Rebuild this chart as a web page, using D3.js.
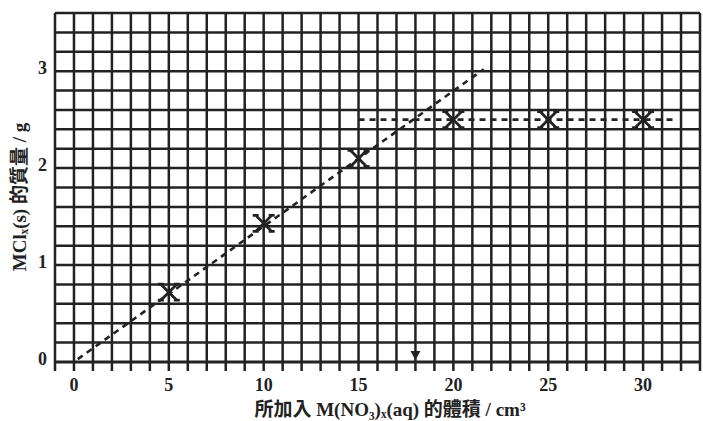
<!DOCTYPE html>
<html>
<head>
<meta charset="utf-8">
<script src="https://cdn.jsdelivr.net/npm/d3@7"></script>
<style>
  html, body { margin: 0; padding: 0; background: #fff; }
  svg { display: block; }
</style>
</head>
<body>
<svg id="chart" width="703" height="421"></svg>
<script>
// ---- data ----
const volumes = [5, 10, 15, 20, 25, 30];          // cm3 of M(NO3)x(aq) added
const masses  = [0.72, 1.43, 2.1, 2.5, 2.5, 2.5]; // g of MClx(s)
const xTicks  = [0, 5, 10, 15, 20, 25, 30];
const yTicks  = [0, 1, 2, 3];
const riseLine = [[0.2, 0.03], [21.6, 3.02]];     // dashed best-fit line (rising part)
const flatLine = [[15, 2.5], [31.6, 2.5]];        // dashed line (plateau)
const arrowX   = 18;                              // end-point volume
const xLabel = "所加入 M(NO₃)ₓ(aq) 的體積 / cm³";
const yLabel = "MClₓ(s) 的質量 / g";

// ---- layout ----
const svg = d3.select("#chart");
const x = d3.scaleLinear().domain([-1, 33]).range([55, 700]);
const y = d3.scaleLinear().domain([0, 3.6]).range([362, 13]);
const ink = "#222";

// grid
const g = svg.append("g");
g.selectAll("line.v").data(d3.range(-1, 34)).join("line")
  .attr("x1", d => x(d)).attr("x2", d => x(d))
  .attr("y1", y(3.6)).attr("y2", y(0) + 9)
  .attr("stroke", ink).attr("stroke-width", 2.5);
g.selectAll("line.h").data(d3.range(0, 19).map(i => i * 0.2)).join("line")
  .attr("x1", x(-1)).attr("x2", x(33))
  .attr("y1", d => y(d)).attr("y2", d => y(d))
  .attr("stroke", ink).attr("stroke-width", d => d === 0 ? 3.2 : 2.5);

// tick labels
const tickFont = "'Liberation Serif', 'DejaVu Serif', serif";
svg.append("g").selectAll("text").data(xTicks).join("text")
  .attr("x", d => x(d)).attr("y", 391)
  .attr("text-anchor", "middle")
  .attr("font-family", tickFont).attr("font-weight", "bold").attr("font-size", 18)
  .attr("fill", ink).text(d => d);
svg.append("g").selectAll("text").data(yTicks).join("text")
  .attr("x", 47).attr("y", d => y(d) + 3)
  .attr("text-anchor", "end")
  .attr("font-family", tickFont).attr("font-weight", "bold").attr("font-size", 18)
  .attr("fill", ink).text(d => d);

// axis titles
const titleFont = "'Liberation Serif', 'Noto Sans CJK TC', serif";
svg.append("text")
  .attr("x", 390).attr("y", 416).attr("text-anchor", "middle")
  .attr("font-family", titleFont).attr("font-weight", "bold").attr("font-size", 19)
  .attr("fill", ink).text(xLabel);
svg.append("text")
  .attr("transform", `translate(26, ${197}) rotate(-90)`)
  .attr("text-anchor", "middle")
  .attr("font-family", titleFont).attr("font-weight", "bold").attr("font-size", 19)
  .attr("fill", ink).text(yLabel);

// dashed lines
const line = d3.line().x(d => x(d[0])).y(d => y(d[1]));
[riseLine, flatLine].forEach(pts => {
  svg.append("path").attr("d", line(pts))
    .attr("fill", "none").attr("stroke", ink)
    .attr("stroke-width", 2.6).attr("stroke-dasharray", "6,5");
});

// arrow head at end point
svg.append("path")
  .attr("d", `M${x(arrowX) - 5},${y(0) - 11} L${x(arrowX) + 5},${y(0) - 11} L${x(arrowX)},${y(0) - 2} Z`)
  .attr("fill", ink);

// crosses
const pts = volumes.map((v, i) => [v, masses[i]]);
const s = 8;
svg.append("g").selectAll("path").data(pts).join("path")
  .attr("d", d => {
    const cx = x(d[0]), cy = y(d[1]);
    return `M${cx - s},${cy - s}L${cx + s},${cy + s}M${cx + s},${cy - s}L${cx - s},${cy + s}` +
      `M${cx - s - 3},${cy - s}L${cx - s + 3},${cy - s}M${cx + s - 3},${cy - s}L${cx + s + 3},${cy - s}` +
      `M${cx - s - 3},${cy + s}L${cx - s + 3},${cy + s}M${cx + s - 3},${cy + s}L${cx + s + 3},${cy + s}`;
  })
  .attr("fill", "none").attr("stroke", ink).attr("stroke-width", 2.8);
</script>
</body>
</html>
